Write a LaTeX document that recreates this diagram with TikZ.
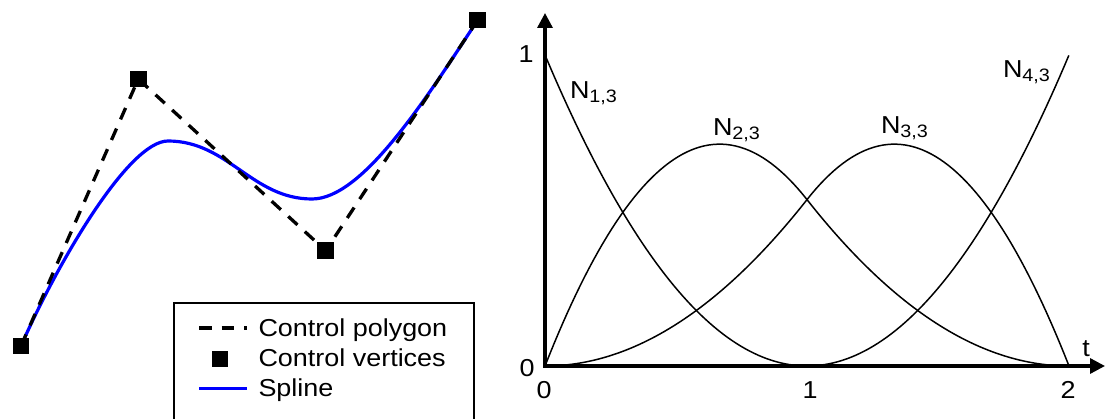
\documentclass[tikz,border=0pt]{standalone}
\usepackage{fontspec}
\setmainfont{Liberation Sans}[FakeStretch=1.1]
\usetikzlibrary{arrows.meta}
\newcommand{\Nlab}[1]{N\raisebox{-4pt}{\fontsize{18}{18}\selectfont #1}}
\begin{document}
\begin{tikzpicture}[x=1pt,y=-1pt,
  every node/.style={inner sep=0pt, outer sep=0pt},
  vertex/.style={fill=black, minimum size=16.5pt, inner sep=0pt},
  polyline/.style={black, line width=3.3pt, dash pattern=on 12.5pt off 10pt},
  spline/.style={blue, line width=3.2pt},
  basis/.style={black, line width=1.5pt},
  axis/.style={black, line width=3.3pt, line join=miter},
  legbox/.style={black, line width=1.6pt},
  lab/.style={font=\fontsize{24.5}{26}\selectfont}]
\useasboundingbox (0,0) rectangle (1106,419);

% ---------- left: control polygon and spline ----------
\coordinate (P0) at (21,346);
\coordinate (P1) at (138.3,79);
\coordinate (P2) at (325.7,250.7);
\coordinate (P3) at (477.7,20);
\coordinate (Pk) at (168,141);
\coordinate (Dp) at (312,199);
\draw[spline] (P0) .. controls (56,266) and (128,141) .. (Pk)
                   .. controls (228,141) and (252,199) .. (Dp)
                   .. controls (362,199) and (424.8,100.9) .. (P3);
\draw[polyline] (P0) -- (P1) -- (P2) -- (P3);
\node[vertex] (V0) at (P0) {};
\node[vertex] (V1) at (P1) {};
\node[vertex] (V2) at (P2) {};
\node[vertex] (V3) at (P3) {};

% ---------- legend ----------
\begin{scope}
\clip (0,0) rectangle (1106,419);
\draw[legbox] (174,425) |- (474,303) -- (474,425);
\end{scope}
\coordinate (d1) at (199,328);
\coordinate (d2) at (247,328);
\draw[polyline] (d1) -- (d2);
\node[vertex, minimum size=16pt] (lv) at (220,359.5) {};
\coordinate (s1) at (199,388.5);
\coordinate (s2) at (247,388.5);
\draw[spline] (s1) -- (s2);
\node[lab, anchor=base west] (t1) at (258.5,337) {Control polygon};
\node[lab, anchor=base west] (t2) at (258.5,367) {Control vertices};
\node[lab, anchor=base west] (t3) at (258.5,397) {Spline};

% ---------- right: basis functions ----------
\coordinate (O) at (545,366);
\coordinate (ytip) at (545,13);
\coordinate (xtip) at (1105,366);
\begin{scope}[shift={(545pt,-366pt)}, x=262pt, y=311pt]
  \draw[basis] plot[domain=0:1, samples=60] (\x,{(1-\x)^2});
  \draw[basis] plot[domain=0:1, samples=60] (\x,{1.07*(2*\x-1.5*\x*\x)})
            -- plot[domain=1:2, samples=60] (\x,{1.07*(2-\x)*(2-\x)/2});
  \draw[basis] plot[domain=0:1, samples=60] (\x,{1.07*\x*\x/2})
            -- plot[domain=1:2, samples=60] (\x,{1.07*(2*(2-\x)-1.5*(2-\x)*(2-\x))});
  \draw[basis] plot[domain=1:2, samples=60] (\x,{(\x-1)*(\x-1)});
\end{scope}
\draw[axis, {Triangle[length=15pt,width=15pt]}-{Triangle[length=15pt,width=15pt]}] (ytip) -- (O) -- (xtip);

\node[lab, anchor=base] (y0) at (527,377) {0};
\node[lab, anchor=base] (y1) at (526,63) {1};
\node[lab, anchor=base] (x0) at (544,399) {0};
\node[lab, anchor=base] (x1) at (810,399) {1};
\node[lab, anchor=base] (x2) at (1068,399) {2};
\node[lab, anchor=base] (tl) at (1086,357) {t};

\node[lab, anchor=base west] (n1) at (570,99) {\Nlab{1,3}};
\node[lab, anchor=base west] (n2) at (713,136) {\Nlab{2,3}};
\node[lab, anchor=base west] (n3) at (881,134) {\Nlab{3,3}};
\node[lab, anchor=base west] (n4) at (1003,78) {\Nlab{4,3}};
\end{tikzpicture}
\end{document}
